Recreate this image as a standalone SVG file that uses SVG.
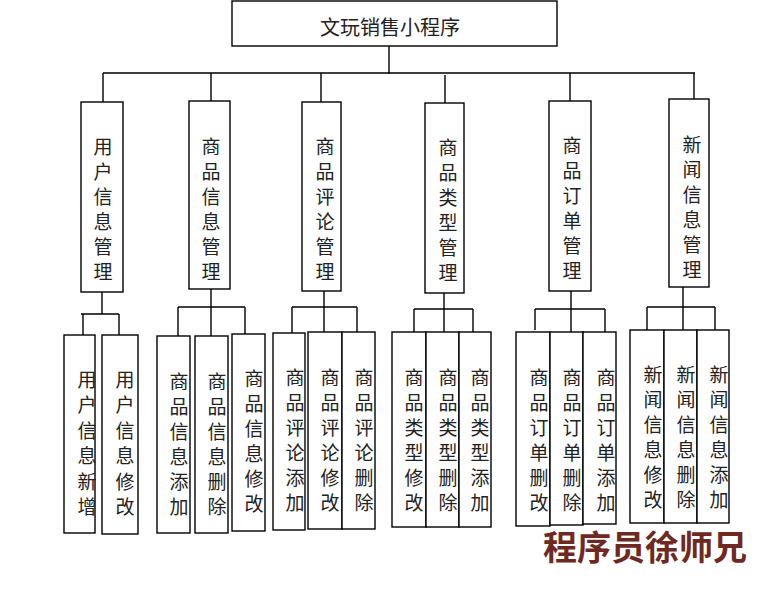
<svg xmlns="http://www.w3.org/2000/svg" width="772" height="589" viewBox="0 0 772 589">
<style>
.box{fill:#fff;stroke:#000;stroke-width:1.4}
.ln{fill:none;stroke:#000;stroke-width:1.4}
.t{font-family:"Liberation Serif","Noto Sans CJK SC",serif;font-size:19px;fill:#222;text-anchor:middle}
.root{font-size:20px}
.wm{font-family:"Liberation Serif","Noto Sans CJK SC",serif;font-size:34px;font-weight:bold;fill:#6e2a22}
</style>
<rect width="772" height="589" fill="#fff"/>
<g id="connectors">
<path class="ln" d="M389 46V74M103 73H695M103 73V102M211 73V101M321 73V102M445 75V103M570 73V101M694 73V99"/>
<path class="ln" d="M102 292V314M81 314H119M83 314V335M119 314V335"/>
<path class="ln" d="M211 289V336M178 307H245M178 307V336M245 307V334"/>
<path class="ln" d="M324 291V332M292 307H357M292 307V333M357 307V332"/>
<path class="ln" d="M444 293V332M414 309H473M414 309V332M473 309V332"/>
<path class="ln" d="M571 291V332M535 309H605M535 309V330M605 309V332"/>
<path class="ln" d="M683 287V330M647 307H715M647 307V330M715 307V330"/>
</g>
<g id="root"><rect class="box" x="232" y="1" width="325" height="45"/><text class="t root" x="390" y="35">文玩销售小程序</text></g>
<g id="n1"><rect class="box" x="81" y="102" width="42" height="190"/><text class="t" x="103"><tspan x="103" y="154">用</tspan><tspan x="103" dy="25">户</tspan><tspan x="103" dy="25">信</tspan><tspan x="103" dy="25">息</tspan><tspan x="103" dy="25">管</tspan><tspan x="103" dy="25">理</tspan></text></g>
<g id="n2"><rect class="box" x="189" y="101" width="41" height="188"/><text class="t"><tspan x="211" y="154">商</tspan><tspan x="211" dy="25">品</tspan><tspan x="211" dy="25">信</tspan><tspan x="211" dy="25">息</tspan><tspan x="211" dy="25">管</tspan><tspan x="211" dy="25">理</tspan></text></g>
<g id="n3"><rect class="box" x="302" y="102" width="39" height="189"/><text class="t"><tspan x="325" y="154">商</tspan><tspan x="325" dy="25">品</tspan><tspan x="325" dy="25">评</tspan><tspan x="325" dy="25">论</tspan><tspan x="325" dy="25">管</tspan><tspan x="325" dy="25">理</tspan></text></g>
<g id="n4"><rect class="box" x="425" y="103" width="39" height="190"/><text class="t"><tspan x="448" y="155">商</tspan><tspan x="448" dy="25">品</tspan><tspan x="448" dy="25">类</tspan><tspan x="448" dy="25">型</tspan><tspan x="448" dy="25">管</tspan><tspan x="448" dy="25">理</tspan></text></g>
<g id="n5"><rect class="box" x="549" y="101" width="42" height="190"/><text class="t"><tspan x="572" y="153">商</tspan><tspan x="572" dy="25">品</tspan><tspan x="572" dy="25">订</tspan><tspan x="572" dy="25">单</tspan><tspan x="572" dy="25">管</tspan><tspan x="572" dy="25">理</tspan></text></g>
<g id="n6"><rect class="box" x="669" y="99" width="40" height="188"/><text class="t"><tspan x="692" y="152">新</tspan><tspan x="692" dy="25">闻</tspan><tspan x="692" dy="25">信</tspan><tspan x="692" dy="25">息</tspan><tspan x="692" dy="25">管</tspan><tspan x="692" dy="25">理</tspan></text></g>

<g id="n1a"><rect class="box" x="64" y="335" width="31" height="198"/><text class="t"><tspan x="87" y="387">用</tspan><tspan x="87" dy="25.4">户</tspan><tspan x="87" dy="25.4">信</tspan><tspan x="87" dy="25.4">息</tspan><tspan x="87" dy="25.4">新</tspan><tspan x="87" dy="25.4">增</tspan></text></g>
<g id="n1b"><rect class="box" x="102" y="335" width="36" height="199"/><text class="t"><tspan x="125" y="387">用</tspan><tspan x="125" dy="25.4">户</tspan><tspan x="125" dy="25.4">信</tspan><tspan x="125" dy="25.4">息</tspan><tspan x="125" dy="25.4">修</tspan><tspan x="125" dy="25.4">改</tspan></text></g>

<g id="n2a"><rect class="box" x="157" y="336" width="33" height="197"/><text class="t"><tspan x="179" y="389">商</tspan><tspan x="179" dy="25">品</tspan><tspan x="179" dy="25">信</tspan><tspan x="179" dy="25">息</tspan><tspan x="179" dy="25">添</tspan><tspan x="179" dy="25">加</tspan></text></g>
<g id="n2b"><rect class="box" x="195" y="336" width="33" height="197"/><text class="t"><tspan x="217" y="389">商</tspan><tspan x="217" dy="25">品</tspan><tspan x="217" dy="25">信</tspan><tspan x="217" dy="25">息</tspan><tspan x="217" dy="25">删</tspan><tspan x="217" dy="25">除</tspan></text></g>
<g id="n2c"><rect class="box" x="232" y="334" width="33" height="197"/><text class="t"><tspan x="254" y="386">商</tspan><tspan x="254" dy="25">品</tspan><tspan x="254" dy="25">信</tspan><tspan x="254" dy="25">息</tspan><tspan x="254" dy="25">修</tspan><tspan x="254" dy="25">改</tspan></text></g>

<g id="n3a"><rect class="box" x="273" y="333" width="32" height="197"/><text class="t"><tspan x="295" y="385">商</tspan><tspan x="295" dy="25">品</tspan><tspan x="295" dy="25">评</tspan><tspan x="295" dy="25">论</tspan><tspan x="295" dy="25">添</tspan><tspan x="295" dy="25">加</tspan></text></g>
<g id="n3b"><rect class="box" x="308" y="332" width="34" height="197"/><text class="t"><tspan x="330" y="385">商</tspan><tspan x="330" dy="25">品</tspan><tspan x="330" dy="25">评</tspan><tspan x="330" dy="25">论</tspan><tspan x="330" dy="25">修</tspan><tspan x="330" dy="25">改</tspan></text></g>
<g id="n3c"><rect class="box" x="342" y="332" width="33" height="197"/><text class="t"><tspan x="364" y="385">商</tspan><tspan x="364" dy="25">品</tspan><tspan x="364" dy="25">评</tspan><tspan x="364" dy="25">论</tspan><tspan x="364" dy="25">删</tspan><tspan x="364" dy="25">除</tspan></text></g>

<g id="n4a"><rect class="box" x="392" y="332" width="34" height="195"/><text class="t"><tspan x="414" y="385">商</tspan><tspan x="414" dy="25">品</tspan><tspan x="414" dy="25">类</tspan><tspan x="414" dy="25">型</tspan><tspan x="414" dy="25">修</tspan><tspan x="414" dy="25">改</tspan></text></g>
<g id="n4b"><rect class="box" x="426" y="332" width="33" height="195"/><text class="t"><tspan x="448" y="385">商</tspan><tspan x="448" dy="25">品</tspan><tspan x="448" dy="25">类</tspan><tspan x="448" dy="25">型</tspan><tspan x="448" dy="25">删</tspan><tspan x="448" dy="25">除</tspan></text></g>
<g id="n4c"><rect class="box" x="459" y="332" width="32" height="195"/><text class="t"><tspan x="480" y="385">商</tspan><tspan x="480" dy="25">品</tspan><tspan x="480" dy="25">类</tspan><tspan x="480" dy="25">型</tspan><tspan x="480" dy="25">添</tspan><tspan x="480" dy="25">加</tspan></text></g>

<g id="n5a"><rect class="box" x="516" y="332" width="34" height="194"/><text class="t"><tspan x="539" y="385">商</tspan><tspan x="539" dy="25">品</tspan><tspan x="539" dy="25">订</tspan><tspan x="539" dy="25">单</tspan><tspan x="539" dy="25">删</tspan><tspan x="539" dy="25">改</tspan></text></g>
<g id="n5b"><rect class="box" x="550" y="332" width="33" height="193"/><text class="t"><tspan x="572" y="385">商</tspan><tspan x="572" dy="25">品</tspan><tspan x="572" dy="25">订</tspan><tspan x="572" dy="25">单</tspan><tspan x="572" dy="25">删</tspan><tspan x="572" dy="25">除</tspan></text></g>
<g id="n5c"><rect class="box" x="583" y="332" width="33" height="192"/><text class="t"><tspan x="606" y="385">商</tspan><tspan x="606" dy="25">品</tspan><tspan x="606" dy="25">订</tspan><tspan x="606" dy="25">单</tspan><tspan x="606" dy="25">添</tspan><tspan x="606" dy="25">加</tspan></text></g>

<g id="n6a"><rect class="box" x="630" y="330" width="34" height="193"/><text class="t"><tspan x="653" y="382">新</tspan><tspan x="653" dy="25">闻</tspan><tspan x="653" dy="25">信</tspan><tspan x="653" dy="25">息</tspan><tspan x="653" dy="25">修</tspan><tspan x="653" dy="25">改</tspan></text></g>
<g id="n6b"><rect class="box" x="664" y="330" width="33" height="193"/><text class="t"><tspan x="686" y="382">新</tspan><tspan x="686" dy="25">闻</tspan><tspan x="686" dy="25">信</tspan><tspan x="686" dy="25">息</tspan><tspan x="686" dy="25">删</tspan><tspan x="686" dy="25">除</tspan></text></g>
<g id="n6c"><rect class="box" x="697" y="330" width="32" height="193"/><text class="t"><tspan x="719" y="382">新</tspan><tspan x="719" dy="25">闻</tspan><tspan x="719" dy="25">信</tspan><tspan x="719" dy="25">息</tspan><tspan x="719" dy="25">添</tspan><tspan x="719" dy="25">加</tspan></text></g>

<text class="wm" x="543" y="560">程序员徐师兄</text>
</svg>
